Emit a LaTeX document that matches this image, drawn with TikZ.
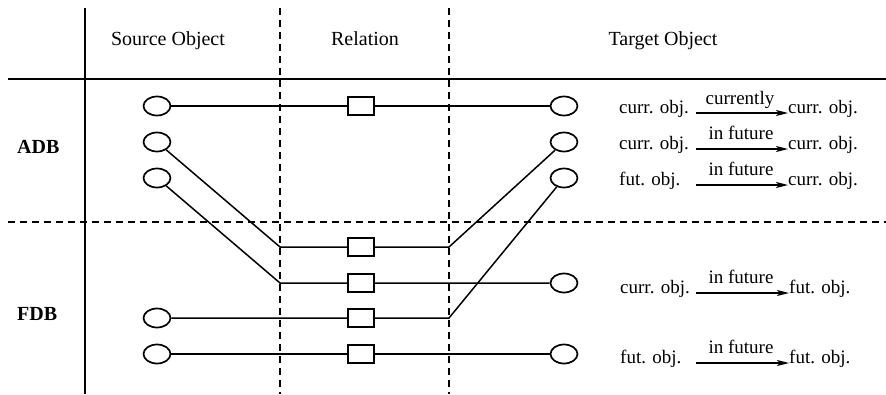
\documentclass[tikz,border=0pt]{standalone}
\usepackage{fontspec}
\setmainfont{Liberation Serif}
\usetikzlibrary{shapes.geometric,arrows.meta}
\begin{document}
\begin{tikzpicture}[x=1pt,y=-1pt,
  obj/.style={ellipse,draw,line width=1.7pt,minimum width=27pt,minimum height=19pt,inner sep=0pt},
  rel/.style={rectangle,draw,line width=1.3pt,minimum width=26pt,minimum height=18pt,inner sep=0pt},
  link/.style={line width=1.5pt},
  frameline/.style={line width=1.7pt},
  dframe/.style={line width=1.4pt,dash pattern=on 7pt off 5pt},
  head/.style={font=\fontsize{20}{24}\selectfont,anchor=base,inner sep=0pt},
  rowlbl/.style={font=\bfseries\fontsize{20}{24}\selectfont,anchor=base west,inner sep=0pt},
  lbl/.style={font=\fontsize{19}{22}\selectfont,anchor=base west,inner sep=0pt},
  arrlbl/.style={font=\fontsize{19}{22}\selectfont,anchor=base,inner sep=0pt},
  arr/.style={line width=1.4pt,-{Stealth[length=12pt,width=6pt,inset=3pt]}}]
\useasboundingbox (0,0) rectangle (886,394);

% frame
\coordinate (fv1) at (85,8);   \coordinate (fv2) at (85,394);
\coordinate (fh1) at (8,79);   \coordinate (fh2) at (886,79);
\coordinate (dv1a) at (280,8); \coordinate (dv1b) at (280,394);
\coordinate (dv2a) at (449,8); \coordinate (dv2b) at (449,394);
\coordinate (dh1) at (8,222);  \coordinate (dh2) at (886,222);
\draw[frameline] (fv1) -- (fv2);
\draw[frameline] (fh1) -- (fh2);
\draw[dframe] (dv1a) -- (dv1b);
\draw[dframe] (dv2a) -- (dv2b);
\draw[dframe] (dh1) -- (dh2);

% headers
\node[head] (hs) at (168,45) {Source Object};
\node[head] (hr) at (365,45) {Relation};
\node[head] (ht) at (663,45) {Target Object};
\node[rowlbl] (adb) at (17,153) {ADB};
\node[rowlbl] (fdb) at (17,320) {FDB};

% source objects
\node[obj] (s1) at (157,106) {};
\node[obj] (s2) at (157,142) {};
\node[obj] (s3) at (157,178) {};
\node[obj] (s4) at (157,318) {};
\node[obj] (s5) at (157,354) {};
% relations
\node[rel] (q1) at (361,106) {};
\node[rel] (q2) at (361,247) {};
\node[rel] (q3) at (361,283) {};
\node[rel] (q4) at (361,318) {};
\node[rel] (q5) at (361,354) {};
% target objects
\node[obj] (t1) at (564,106) {};
\node[obj] (t2) at (564,142) {};
\node[obj] (t3) at (564,178) {};
\node[obj] (t4) at (564,283) {};
\node[obj] (t5) at (564,354) {};
% bends
\coordinate (k2) at (280,247);
\coordinate (k3) at (280,283);
\coordinate (j2) at (449,247);
\coordinate (j4) at (449,318);

\draw[link] (s1) -- (q1) -- (t1);
\draw[link] (s2) -- (k2) -- (q2) -- (j2) -- (t2);
\draw[link] (s3) -- (k3) -- (q3) -- (t4);
\draw[link] (s4) -- (q4) -- (j4) -- (t3);
\draw[link] (s5) -- (q5) -- (t5);

% explanations
\node[lbl] (l1) at (619,113) {curr. obj.};
\node[lbl] (r1) at (788,113) {curr. obj.};
\coordinate (a1) at (696,113);
\draw[arr] (a1) -- (r1.base west);
\node[arrlbl] (c1) at (740,104) {currently};

\node[lbl] (l2) at (619,149) {curr. obj.};
\node[lbl] (r2) at (788,149) {curr. obj.};
\coordinate (a2) at (696,149);
\draw[arr] (a2) -- (r2.base west);
\node[arrlbl] (c2) at (741,139) {in future};

\node[lbl] (l3) at (619,185) {fut. obj.};
\node[lbl] (r3) at (788,185) {curr. obj.};
\coordinate (a3) at (696,185);
\draw[arr] (a3) -- (r3.base west);
\node[arrlbl] (c3) at (741,175) {in future};

\node[lbl] (l4) at (620,293) {curr. obj.};
\node[lbl] (r4) at (789,293) {fut. obj.};
\coordinate (a4) at (696,293);
\draw[arr] (a4) -- (r4.base west);
\node[arrlbl] (c4) at (741,283) {in future};

\node[lbl] (l5) at (620,363) {fut. obj.};
\node[lbl] (r5) at (789,363) {fut. obj.};
\coordinate (a5) at (696,363);
\draw[arr] (a5) -- (r5.base west);
\node[arrlbl] (c5) at (741,353) {in future};
\end{tikzpicture}
\end{document}
